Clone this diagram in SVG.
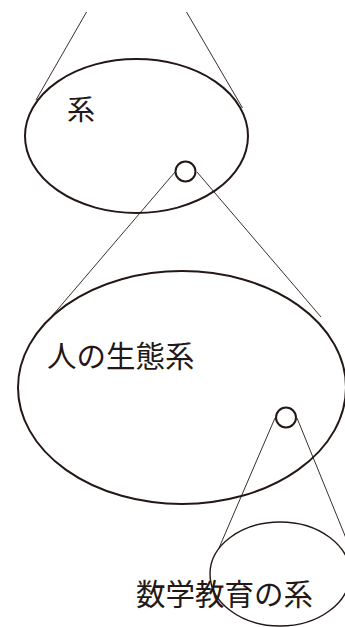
<svg xmlns="http://www.w3.org/2000/svg" width="345" height="627" viewBox="0 0 345 627">
<style>
.e{fill:none;stroke:#231815;stroke-width:2}
.c{fill:#fff;stroke:#231815;stroke-width:2}
.l{stroke:#231815;stroke-width:0.9;fill:none}
.t{font-family:"Noto Sans CJK JP","Noto Sans CJK SC",sans-serif;fill:#231815}
</style>
<rect width="345" height="627" fill="#fff"/>
<g id="connectors">
<line class="l" x1="86.5" y1="12" x2="36" y2="100"/>
<line class="l" x1="186.5" y1="12" x2="242.5" y2="108"/>
<line class="l" x1="175" y1="172" x2="52" y2="316"/>
<line class="l" x1="197" y1="172" x2="321" y2="317"/>
<line class="l" x1="275" y1="418" x2="219" y2="548"/>
<line class="l" x1="297" y1="418" x2="350" y2="548"/>
</g>
<g id="system">
<ellipse class="e" cx="136.5" cy="136" rx="111.5" ry="77"/>
<text class="t" x="67" y="120" font-size="28">系</text>
</g>
<g id="human-ecosystem">
<ellipse class="e" cx="182" cy="387.5" rx="164" ry="116.5"/>
<text class="t" x="47" y="367" font-size="29.5">人の生態系</text>
</g>
<g id="math-education">
<ellipse class="e" cx="280" cy="574" rx="70" ry="52" style="stroke-width:1.4"/>
<text class="t" x="136" y="605" font-size="29.5">数学教育の系</text>
</g>
<g id="zoom1"><circle class="c" cx="185.5" cy="171.5" r="10"/></g>
<g id="zoom2"><circle class="c" cx="286" cy="417.5" r="10"/></g>
</svg>
